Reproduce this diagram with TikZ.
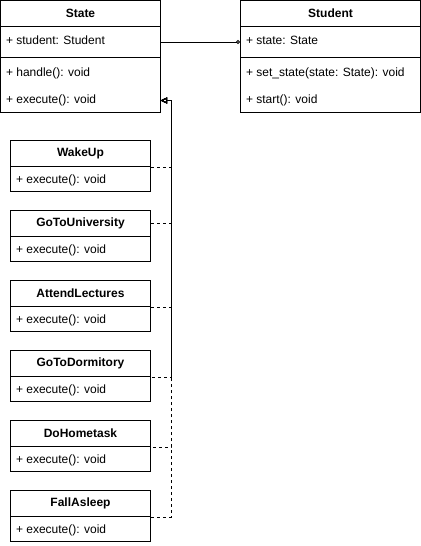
\documentclass[tikz,border=0pt]{standalone}
\usepackage{fontspec}
\setmainfont{Liberation Sans}
\usetikzlibrary{arrows.meta}

\begin{document}
\begin{tikzpicture}[x=0.75pt, y=-0.75pt, line width=0.75pt, font=\fontsize{9pt}{11pt}\selectfont,
  umlhead/.style={draw, font=\fontsize{9pt}{11pt}\selectfont\bfseries, minimum height=19.5pt, inner sep=0pt},
  umlbox/.style={draw, inner sep=0pt},
  umltext/.style={anchor=west, inner sep=0pt},
  realize/.style={dash pattern=on 2.25pt off 2.25pt, -{Triangle[open, length=5pt, width=4.5pt]}}]

\useasboundingbox (-0.5,-0.5) rectangle (420.5,545.5);

% State class
\node [umlhead, minimum width=120pt] (state) at (80,13) {State};
\node [umlbox, minimum width=120pt, minimum height=23.25pt] (stateattr) at (80,41.5) {};
\node [umlbox, minimum width=120pt, minimum height=41.25pt] (statemeth) at (80,84.5) {};
\node [umltext] (statestudent) at (5,40) {+ student: Student};
\node [umltext] (statehandle) at (5,73) {+ handle(): void};
\node [umltext] (stateexec) at (5,100) {+ execute(): void};
\coordinate (stip) at (160,100);

% Student class
\node [umlhead, minimum width=135pt] (student) at (330,13) {Student};
\node [umlbox, minimum width=135pt, minimum height=23.25pt] (studentattr) at (330,41.5) {};
\node [umlbox, minimum width=135pt, minimum height=41.25pt] (studentmeth) at (330,84.5) {};
\node [umltext] (studentstate) at (245,40) {+ state: State};
\node [umltext] (studentset) at (245,73) {+ set\_state(state: State): void};
\node [umltext] (studentstart) at (245,100) {+ start(): void};

% association State -- Student
\draw [-{Circle[open, length=3pt]}] (stateattr.east) -- (studentattr.west);

% concrete states
\node [umlhead, minimum width=105pt] (wake) at (80,153) {WakeUp};
\node [umlbox, minimum width=105pt, minimum height=18.75pt] (wakebody) at (80,178.5) {};
\node [umltext] (wakeexec) at (15,180) {+ execute(): void};
\draw [realize] (wake.south east) -- ++(20,0) |- (stip);

\node [umlhead, minimum width=105pt] (uni) at (80,223) {GoToUniversity};
\node [umlbox, minimum width=105pt, minimum height=18.75pt] (unibody) at (80,248.5) {};
\node [umltext] (uniexec) at (15,250) {+ execute(): void};
\draw [realize] (uni.east) -- ++(20,0) |- (stip);

\node [umlhead, minimum width=105pt] (lect) at (80,293) {AttendLectures};
\node [umlbox, minimum width=105pt, minimum height=18.75pt] (lectbody) at (80,318.5) {};
\node [umltext] (lectexec) at (15,320) {+ execute(): void};
\draw [realize] (lect.south east) -- ++(20,0) |- (stip);

\node [umlhead, minimum width=105pt] (dorm) at (80,363) {GoToDormitory};
\node [umlbox, minimum width=105pt, minimum height=18.75pt] (dormbody) at (80,388.5) {};
\node [umltext] (dormexec) at (15,390) {+ execute(): void};
\draw [realize, dash phase=3.75pt] (dorm.south east) -- ++(20,0) |- (stip);

\node [umlhead, minimum width=105pt] (home) at (80,433) {DoHometask};
\node [umlbox, minimum width=105pt, minimum height=18.75pt] (homebody) at (80,458.5) {};
\node [umltext] (homeexec) at (15,460) {+ execute(): void};
\draw [realize, dash phase=3pt] (home.south east) -- ++(20,0) |- (stip);

\node [umlhead, minimum width=105pt] (sleep) at (80,503) {FallAsleep};
\node [umlbox, minimum width=105pt, minimum height=18.75pt] (sleepbody) at (80,528.5) {};
\node [umltext] (sleepexec) at (15,530) {+ execute(): void};
\draw [realize] (sleep.south east) -- ++(20,0) |- (stip);

\end{tikzpicture}
\end{document}
